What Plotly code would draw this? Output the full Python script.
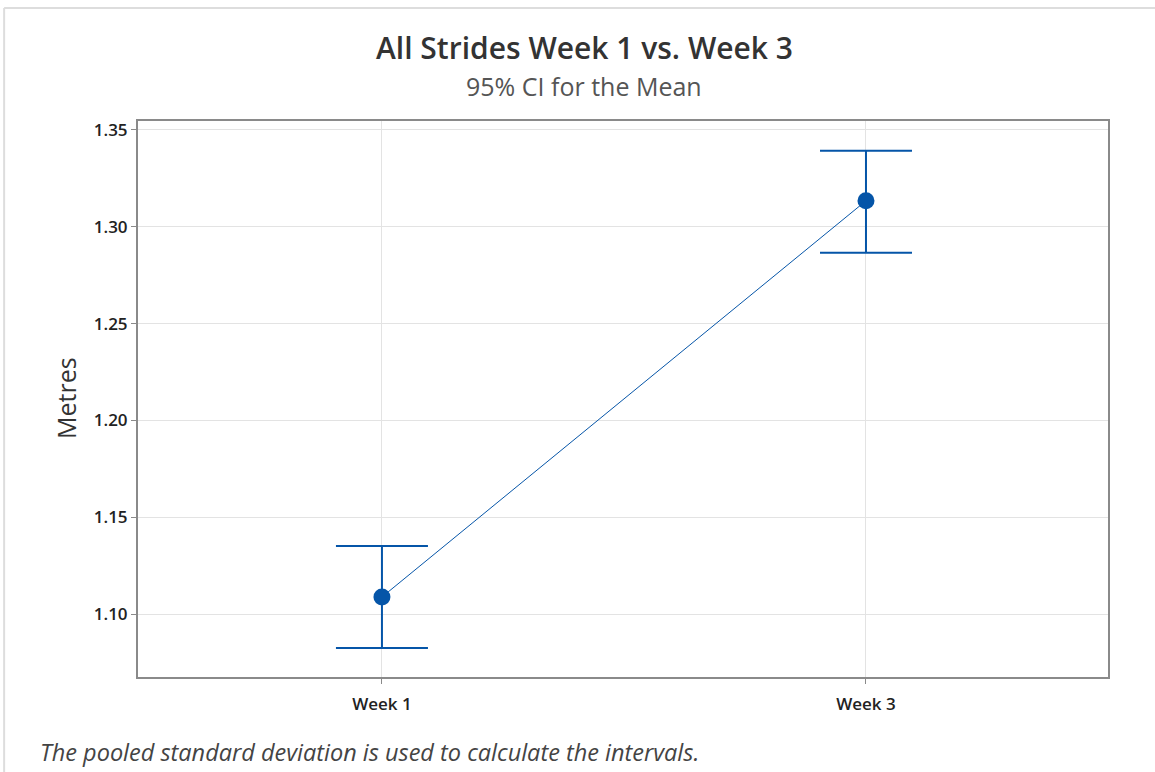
import plotly.graph_objects as go

# Interval plot data
weeks = ["Week 1", "Week 3"]
means = [1.1088, 1.3134]
ci_upper = [1.1351, 1.3392]
ci_lower = [1.0825, 1.2866]
y_ticks = [1.10, 1.15, 1.20, 1.25, 1.30, 1.35]

blue = "#0555A8"
font = "Open Sans, Noto Sans, sans-serif"

err_plus = [u - m for u, m in zip(ci_upper, means)]
err_minus = [m - l for m, l in zip(means, ci_lower)]

fig = go.Figure()

fig.add_trace(go.Scatter(
    x=weeks,
    y=means,
    mode="lines+markers",
    line=dict(color=blue, width=1),
    marker=dict(color=blue, size=17),
    error_y=dict(
        type="data",
        symmetric=False,
        array=err_plus,
        arrayminus=err_minus,
        color=blue,
        thickness=2,
        width=46,
    ),
    showlegend=False,
))

axis_style = dict(
    showgrid=True, gridcolor="#e3e3e3", gridwidth=1,
    showline=True, linecolor="#8a8a8a", linewidth=2, mirror=True,
    ticks="outside", ticklen=5, tickcolor="#8a8a8a",
    tickfont=dict(family=font, size=17, color="#222", weight=600),
    zeroline=False,
)
fig.update_xaxes(range=[-0.504, 1.5], ticklabelstandoff=6, **axis_style)
fig.update_yaxes(range=[1.0675, 1.3546], tickvals=y_ticks,
                 tickformat=".2f", **axis_style)

fig.update_layout(
    width=1155,
    height=772,
    margin=dict(l=138, r=47, t=121, b=95),
    paper_bgcolor="white",
    plot_bgcolor="white",
    annotations=[
        dict(text="All Strides Week 1 vs. Week 3", x=0.4598, y=1.1313,
             xref="paper", yref="paper", showarrow=False,
             xanchor="center", yanchor="middle",
             font=dict(family=font, size=30, color="#333", weight=600)),
        dict(text="95% CI for the Mean", x=0.4598, y=1.063,
             xref="paper", yref="paper", showarrow=False,
             xanchor="center", yanchor="middle",
             font=dict(family=font, size=25, color="#555")),
        dict(text="Metres", x=-0.0742, y=0.5018,
             xref="paper", yref="paper", showarrow=False, textangle=-90,
             xanchor="center", yanchor="middle",
             font=dict(family=font, size=25, color="#333")),
        dict(text="<i>The pooled standard deviation is used to calculate the intervals.</i>",
             x=-0.1031, y=-0.1349, xref="paper", yref="paper", showarrow=False,
             xanchor="left", yanchor="middle",
             font=dict(family=font, size=23.5, color="#444")),
    ],
    shapes=[
        dict(type="line", xref="paper", yref="paper",
             x0=-0.138, x1=1.05, y0=1.2032, y1=1.2032,
             line=dict(color="#dddddd", width=2)),
        dict(type="line", xref="paper", yref="paper",
             x0=-0.138, x1=-0.138, y0=1.2032, y1=-0.2,
             line=dict(color="#dddddd", width=2)),
    ],
)

# the page body has a default 8px margin; drop it so the figure sits at 0,0
fig.write_html("out.html", config={"displayModeBar": False},
               post_script="document.body.style.margin='0';")
